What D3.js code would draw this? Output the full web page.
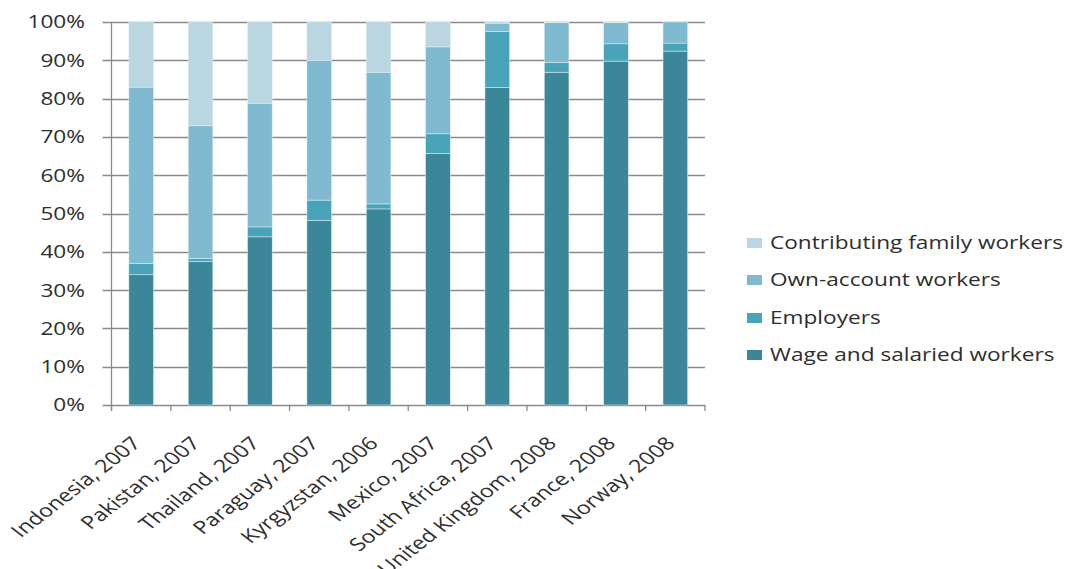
<!DOCTYPE html>
<html>
<head>
<meta charset="utf-8">
<script src="https://cdn.jsdelivr.net/npm/d3@7"></script>
<style>
  html, body { margin: 0; padding: 0; background: #fff; }
  svg { display: block; }
  text { font-family: "Open Sans", sans-serif; fill: #2e2e2e; }
</style>
</head>
<body>
<svg id="chart" width="1071" height="569"></svg>
<script>
const categories = ["Indonesia, 2007", "Pakistan, 2007", "Thailand, 2007", "Paraguay, 2007", "Kyrgyzstan, 2006", "Mexico, 2007", "South Africa, 2007", "United Kingdom, 2008", "France, 2008", "Norway, 2008"];
const seriesNames = ["Wage and salaried workers", "Employers", "Own-account workers", "Contributing family workers"];
const wage = [34.0, 37.5, 43.9, 48.2, 51.2, 65.7, 82.9, 86.9, 89.8, 92.4];
const employers = [2.9, 0.8, 2.6, 5.3, 1.3, 5.1, 14.6, 2.6, 4.5, 2.1];
const ownAccount = [46.1, 34.6, 32.3, 36.5, 34.4, 22.7, 2.2, 10.3, 5.5, 5.5];
const contributing = [17.0, 27.1, 21.2, 10.0, 13.1, 6.5, 0.3, 0.2, 0.2, 0.0];
const yTicks = [0, 10, 20, 30, 40, 50, 60, 70, 80, 90, 100];
const colors = ["#3b8799", "#49a3b9", "#80bad0", "#b9d6e1"];

const svg = d3.select("#chart");
const mLeft = 111.5, mRight = 705, mTop = 22, mBottom = 405;

const x = d3.scaleBand().domain(categories).range([mLeft, mRight]).paddingInner(0.585).paddingOuter(0.2925);
const y = d3.scaleLinear().domain([0, 100]).range([mBottom, mTop]);

const rows = categories.map((c, i) => ({cat: c, s0: wage[i], s1: employers[i], s2: ownAccount[i], s3: contributing[i]}));
const stack = d3.stack().keys(["s0", "s1", "s2", "s3"]);
const layers = stack(rows);

// stretch factor measured from legend text
const probe = svg.append("text").attr("font-size", 18).text("Contributing family workers");
const sx = 293 / probe.node().getComputedTextLength();
probe.remove();

// gridlines
svg.append("g").selectAll("line").data(yTicks).join("line")
  .attr("x1", mLeft - 9).attr("x2", mRight)
  .attr("y1", d => Math.round(y(d)) + 0.5).attr("y2", d => Math.round(y(d)) + 0.5)
  .attr("stroke", "#8a8a8a").attr("stroke-width", 1.3);

// y axis line
svg.append("line").attr("x1", mLeft).attr("x2", mLeft).attr("y1", mTop).attr("y2", mBottom + 5)
  .attr("stroke", "#8a8a8a").attr("stroke-width", 1.3);

// x ticks at band boundaries
const bounds = categories.map((c, i) => mLeft + i * x.step()).concat([mRight]);
svg.append("g").selectAll("line").data(bounds).join("line")
  .attr("x1", d => d).attr("x2", d => d).attr("y1", mBottom).attr("y2", mBottom + 6)
  .attr("stroke", "#8a8a8a").attr("stroke-width", 1.3);

// bars
svg.append("g").selectAll("g").data(layers).join("g")
  .attr("fill", (d, i) => colors[i])
  .selectAll("rect").data(d => d).join("rect")
  .attr("x", d => x(d.data.cat))
  .attr("width", x.bandwidth())
  .attr("y", d => y(d[1]))
  .attr("height", d => Math.max(0, y(d[0]) - y(d[1])))
  .attr("stroke", "#e4f0f4").attr("stroke-width", 0.5);

// y labels
svg.append("g").selectAll("text").data(yTicks).join("text")
  .attr("transform", d => `translate(85,${y(d)}) scale(${sx},1)`)
  .attr("text-anchor", "end").attr("dy", "0.36em").attr("font-size", 18)
  .text(d => d + "%");

// x labels
svg.append("g").selectAll("text").data(categories).join("text")
  .attr("transform", d => `translate(${x(d) + x.bandwidth() / 2 - 5},${mBottom + 35}) scale(${sx * 1.03},1) rotate(-45)`)
  .attr("text-anchor", "end").attr("dy", "0.36em").attr("font-size", 18)
  .text(d => d);

// legend
const legendOrder = [3, 2, 1, 0];
const legendY = [243, 280, 318, 355];
const lg = svg.append("g");
legendOrder.forEach((si, k) => {
  lg.append("rect").attr("x", 747).attr("y", legendY[k] - 5).attr("width", 15).attr("height", 10).attr("fill", colors[si]);
  lg.append("text").attr("transform", `translate(770,${legendY[k]}) scale(${sx},1)`)
    .attr("dy", "0.36em").attr("font-size", 18).text(seriesNames[si]);
});
</script>
</body>
</html>
